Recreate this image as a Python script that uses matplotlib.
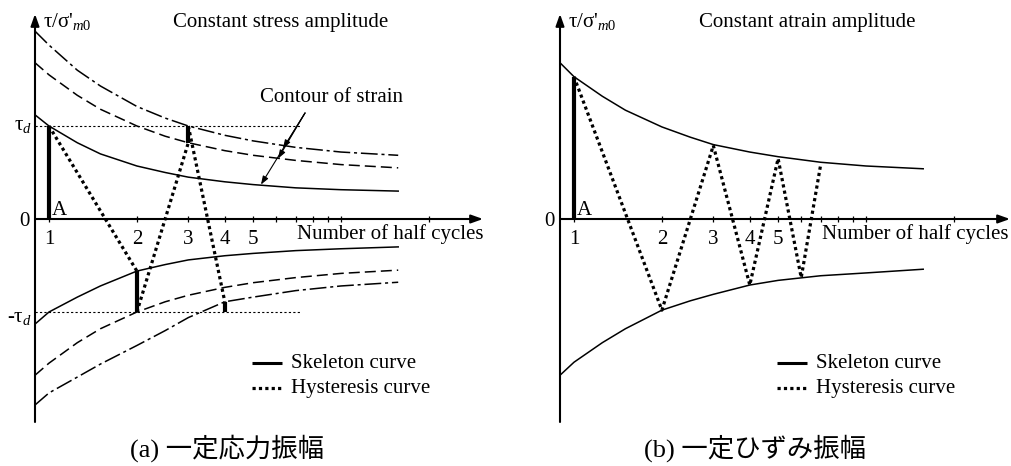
import matplotlib
matplotlib.use("Agg")
import matplotlib.pyplot as plt

plt.rcParams['font.family'] = ['Liberation Serif', 'Noto Sans CJK JP']
plt.rcParams['mathtext.fontset'] = 'custom'
plt.rcParams['mathtext.rm'] = 'Liberation Serif'
plt.rcParams['mathtext.it'] = 'Liberation Serif:italic'

# ---------------- data (tau / sigma'_m0, with tau_d = 1) ----------------
TAU_D = 1.0
n_grid = [0.8955, 1, 1.25, 1.5, 2, 2.5, 3, 4, 5, 7, 10, 15.7]

# (a) constant stress amplitude: strain contours
stress_up_solid = [1.12, 1.00, 0.82, 0.70, 0.57, 0.50, 0.45, 0.40, 0.37, 0.335, 0.315, 0.30]
stress_up_dashed = [1.68, 1.55, 1.33, 1.18, 1.00, 0.89, 0.82, 0.735, 0.685, 0.63, 0.585, 0.55]
stress_up_dashdot = [2.02, 1.87, 1.60, 1.43, 1.21, 1.085, 1.00, 0.90, 0.84, 0.77, 0.72, 0.685]
stress_lo_solid = [-1.13, -1.00, -0.84, -0.72, -0.56, -0.49, -0.44, -0.395, -0.37, -0.34, -0.32, -0.30]
stress_lo_dashed = [-1.68, -1.55, -1.33, -1.18, -1.00, -0.89, -0.82, -0.735, -0.685, -0.63, -0.585, -0.55]
stress_lo_dashdot = [-2.00, -1.87, -1.70, -1.56, -1.36, -1.20, -1.06, -0.89, -0.84, -0.77, -0.72, -0.68]

# skeleton segments: half cycle, start value, end value
stress_bar_n = [1, 2, 3, 4]
stress_bar_from = [0.0, -0.56, 0.82, -0.89]
stress_bar_to = [1.0, -1.0, 1.0, -1.0]

# (b) constant strain amplitude
strain_up = [1.68, 1.53, 1.32, 1.17, 0.99, 0.88, 0.80, 0.72, 0.67, 0.61, 0.57, 0.54]
strain_lo = [-1.68, -1.54, -1.33, -1.18, -0.98, -0.88, -0.81, -0.71, -0.66, -0.61, -0.58, -0.54]
strain_hyst_n = [1, 2, 3, 4, 5, 6, 7]
strain_hyst_val = [1.53, -0.98, 0.79, -0.71, 0.65, -0.63, 0.59]

tick_n = [1, 2, 3, 4, 5, 6, 7, 8, 9, 10, 20]
tick_labels = ['1', '2', '3', '4', '5']

# ---------------- layout ----------------
W, H = 1011, 466
XMIN = 0.8955
YMIN, YMAX = -2.1828, 2.2043
FS = 15
LW_AX = 1.5
LW_CURVE = 1.1
LW_BAR = 3.0
LW_HYST = 2.3
DOTS = (0, (1, 1))
DASHED = (0, (7.2, 3.3))
DASHDOT = (0, (11, 2.5, 2, 2.5))

fig = plt.figure(figsize=(W / 100, H / 100), dpi=100)


def make_axes(left_px, right_px, xmax):
    ax = fig.add_axes([left_px / W, (H - 422) / H, (right_px - left_px) / W, 408 / H])
    ax.set_xscale('log')
    ax.set_xlim(XMIN, xmax)
    ax.set_ylim(YMIN, YMAX)
    ax.axis('off')
    arrow = dict(arrowstyle='-|>,head_length=0.7,head_width=0.25', lw=LW_AX,
                 color='k', shrinkA=0, shrinkB=0, mutation_scale=10)
    ax.annotate('', xy=(XMIN, YMAX), xytext=(XMIN, YMIN), arrowprops=arrow,
                annotation_clip=False)
    ax.annotate('', xy=(xmax, 0), xytext=(XMIN, 0), arrowprops=arrow,
                annotation_clip=False)
    ax.vlines(tick_n, -0.035, 0.035, color='k', lw=0.9)
    for n, lab in zip(tick_n, tick_labels):
        ax.text(n, -0.27, lab, fontsize=FS, ha='center', va='baseline')
    ax.text(0.955, 2.065, r"τ/σ'$_{m0}$", fontsize=FS, ha='left', va='baseline')
    ax.text(0.855, -0.075, '0', fontsize=FS, ha='right', va='baseline')
    ax.text(1.02, 0.04, 'A', fontsize=FS, ha='left', va='baseline')
    ax.text(7.07, -0.215, 'Number of half cycles', fontsize=FS, ha='left', va='baseline')
    # legend
    ax.plot([4.97, 6.30], [-1.548, -1.548], color='k', lw=2.2, solid_capstyle='butt')
    ax.plot([4.97, 6.30], [-1.815, -1.815], color='k', lw=LW_HYST, ls=DOTS)
    ax.text(6.74, -1.60, 'Skeleton curve', fontsize=FS, ha='left', va='baseline')
    ax.text(6.74, -1.87, 'Hysteresis curve', fontsize=FS, ha='left', va='baseline')
    return ax


# ---------------- (a) constant stress amplitude ----------------
axa = make_axes(35, 483, 30.64)
axa.plot([XMIN, 7.3], [TAU_D, TAU_D], color='k', lw=0.8, ls=(0, (2, 2)))
axa.plot([XMIN, 7.3], [-TAU_D, -TAU_D], color='k', lw=0.8, ls=(0, (2, 2)))
axa.plot(n_grid, stress_up_solid, color='k', lw=LW_CURVE)
axa.plot(n_grid, stress_lo_solid, color='k', lw=LW_CURVE)
axa.plot(n_grid, stress_up_dashed, color='k', lw=LW_CURVE, ls=DASHED)
axa.plot(n_grid, stress_lo_dashed, color='k', lw=LW_CURVE, ls=DASHED)
axa.plot(n_grid, stress_up_dashdot, color='k', lw=LW_CURVE, ls=DASHDOT)
axa.plot(n_grid, stress_lo_dashdot, color='k', lw=LW_CURVE, ls=DASHDOT)

for i in range(len(stress_bar_n) - 1):
    axa.plot([stress_bar_n[i], stress_bar_n[i + 1]],
             [stress_bar_to[i], stress_bar_from[i + 1]],
             color='k', lw=LW_HYST, ls=DOTS)
axa.vlines(stress_bar_n, stress_bar_from, stress_bar_to, color='k', lw=LW_BAR)

axa.text(0.875, 0.957, r'τ$_d$', fontsize=FS, ha='right', va='baseline')
axa.text(0.875, -1.11, r'-τ$_d$', fontsize=FS, ha='right', va='baseline')
axa.text(2.66, 2.065, 'Constant stress amplitude', fontsize=FS, ha='left', va='baseline')
axa.text(5.28, 1.258, 'Contour of strain', fontsize=FS, ha='left', va='baseline')
thin = dict(arrowstyle='-|>,head_length=0.5,head_width=0.18', lw=0.8, color='k',
            shrinkA=0, shrinkB=0, mutation_scale=10)
for tip in [(6.33, 0.76), (6.09, 0.65), (5.32, 0.37)]:
    axa.annotate('', xy=tip, xytext=(7.53, 1.14), arrowprops=thin)

# ---------------- (b) constant strain amplitude ----------------
axb = make_axes(560, 1010, 31.13)
axb.plot(n_grid, strain_up, color='k', lw=LW_CURVE)
axb.plot(n_grid, strain_lo, color='k', lw=LW_CURVE)
axb.plot(strain_hyst_n, strain_hyst_val, color='k', lw=LW_HYST, ls=DOTS)
axb.vlines([strain_hyst_n[0]], [0.0], [strain_hyst_val[0]], color='k', lw=LW_BAR)
axb.text(2.67, 2.065, 'Constant atrain amplitude', fontsize=FS, ha='left', va='baseline')

# ---------------- captions ----------------
fig.text(226.5 / W, 1 - 448 / H, '(a) 一定応力振幅', fontsize=19, ha='center', va='center')
fig.text(755 / W, 1 - 448 / H, '(b) 一定ひずみ振幅', fontsize=19, ha='center', va='center')

fig.savefig('out.png', dpi=100)
